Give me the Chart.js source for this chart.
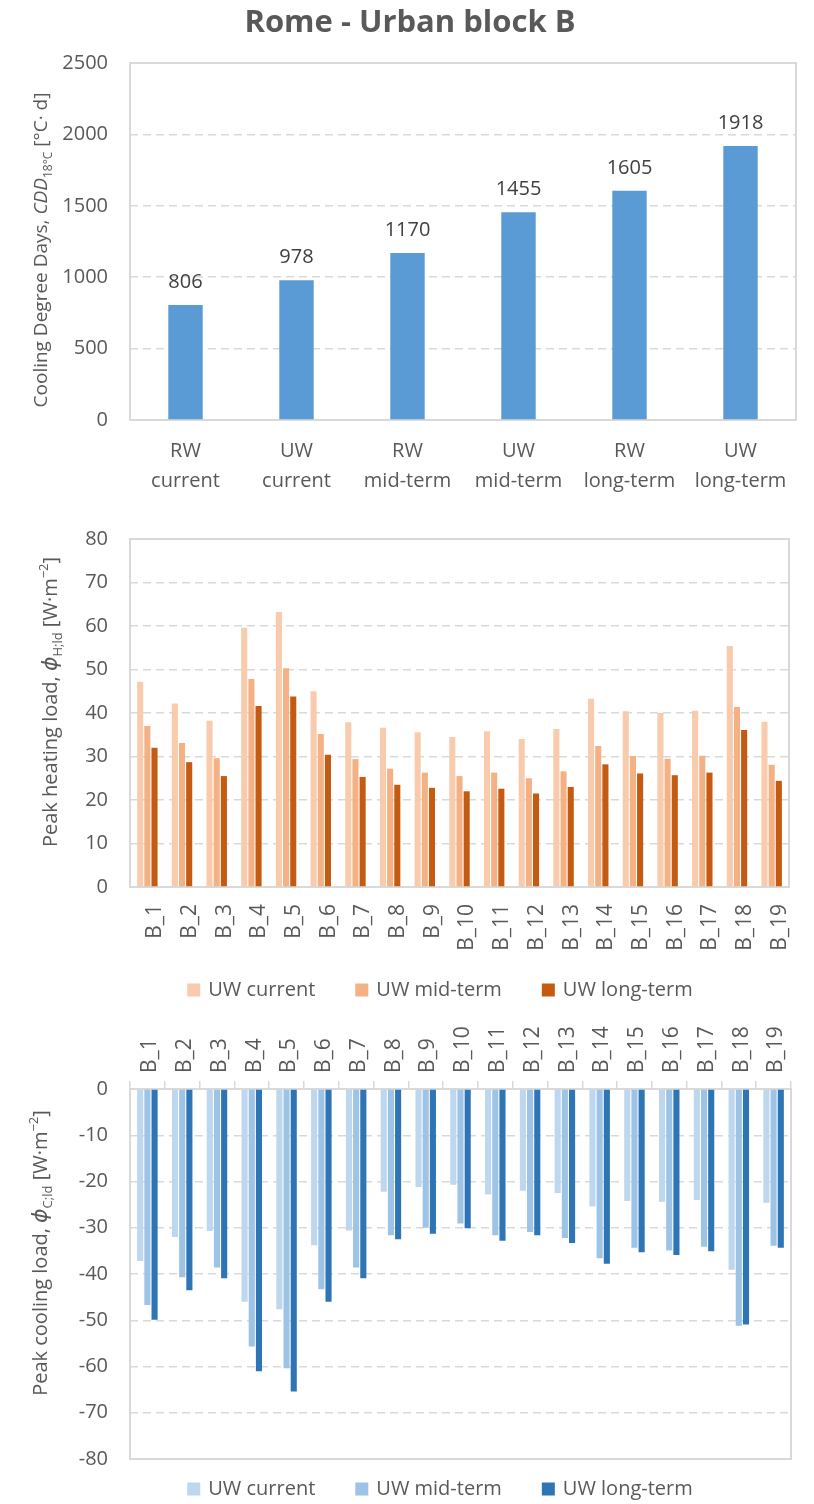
<!DOCTYPE html>
<html><head><meta charset="utf-8">
<script src="https://cdn.jsdelivr.net/npm/chart.js@4.4.0/dist/chart.umd.min.js"></script>
<style>
body{margin:0;background:#fff;width:814px;height:1504px;overflow:hidden;}
.box{position:absolute;left:0;width:814px;}
</style></head><body>
<div class="box" style="top:0;height:505px"><canvas id="c1"></canvas></div>
<div class="box" style="top:505px;height:505px"><canvas id="c2"></canvas></div>
<div class="box" style="top:1010px;height:494px"><canvas id="c3"></canvas></div>
<script>
// ---------- DATA ----------
const chartTitle = 'Rome - Urban block B';
const cddCategories = [['RW','current'],['UW','current'],['RW','mid-term'],['UW','mid-term'],['RW','long-term'],['UW','long-term']];
const cddValues = [806, 978, 1170, 1455, 1605, 1918];
const blocks = ['B_1','B_2','B_3','B_4','B_5','B_6','B_7','B_8','B_9','B_10','B_11','B_12','B_13','B_14','B_15','B_16','B_17','B_18','B_19'];
const seriesLabels = ['UW current','UW mid-term','UW long-term'];
const heatCurrent = [47.2, 42.2, 38.2, 59.6, 63.2, 45.0, 37.9, 36.6, 35.6, 34.5, 35.8, 34.0, 36.3, 43.3, 40.4, 40.0, 40.5, 55.4, 38.0];
const heatMid     = [37.0, 33.1, 29.6, 47.8, 50.3, 35.2, 29.4, 27.2, 26.3, 25.5, 26.3, 25.0, 26.6, 32.4, 30.1, 29.5, 30.2, 41.4, 28.1];
const heatLong    = [32.0, 28.7, 25.5, 41.6, 43.8, 30.4, 25.3, 23.5, 22.8, 22.0, 22.6, 21.5, 23.0, 28.2, 26.1, 25.7, 26.3, 36.1, 24.4];
const coolCurrent = [-37.2, -32.0, -30.7, -46.0, -47.6, -33.8, -30.6, -22.2, -21.2, -20.7, -22.8, -22.0, -22.5, -25.4, -24.2, -24.4, -24.0, -39.1, -24.6];
const coolMid     = [-46.7, -40.7, -38.6, -55.7, -60.4, -43.3, -38.6, -31.6, -30.0, -29.1, -31.6, -30.9, -32.2, -36.6, -34.3, -34.9, -34.1, -51.2, -33.9];
const coolLong    = [-49.9, -43.5, -40.9, -61.0, -65.4, -46.0, -40.9, -32.5, -31.3, -30.1, -32.8, -31.6, -33.3, -37.8, -35.3, -35.9, -35.1, -50.9, -34.3];
const cddAxis = {min: 0, max: 2500, step: 500};
const heatAxis = {min: 0, max: 80, step: 10};
const coolAxis = {min: -80, max: 0, step: 10};

// ---------- STYLE ----------
const FONT = "'Open Sans', 'DejaVu Sans', sans-serif";
const TXT = '#595959';
const GRID = '#D9D9D9';
Chart.defaults.font.family = FONT;
Chart.defaults.color = TXT;
const heatColors = ['#F8CBAD', '#F4B183', '#C55A11'];
const coolColors = ['#BDD7EE', '#9DC3E6', '#2E75B6'];
const plainTick = v => String(v);

const framePlugin = {
  id: 'frame',
  beforeDatasetsDraw(chart) {
    const {ctx, chartArea: a} = chart;
    ctx.save();
    ctx.strokeStyle = GRID; ctx.lineWidth = 2;
    ctx.strokeRect(a.left, a.top, a.right - a.left, a.bottom - a.top);
    ctx.restore();
  }
};

function richTitle(segments, x, yc) {
  return {
    id: 'richTitle',
    afterDraw(chart) {
      const ctx = chart.ctx;
      ctx.save();
      ctx.translate(x, yc);
      ctx.rotate(-Math.PI / 2);
      ctx.fillStyle = TXT;
      ctx.textBaseline = 'alphabetic';
      let total = 0;
      segments.forEach(s => { ctx.font = s.f + ' ' + FONT; total += ctx.measureText(s.t).width; });
      let u = -total / 2;
      segments.forEach(s => {
        ctx.font = s.f + ' ' + FONT;
        ctx.fillText(s.t, u, 7 + (s.dy || 0));
        u += ctx.measureText(s.t).width;
      });
      ctx.restore();
    }
  };
}

function customLegend(cx, y, colors) {
  return {
    id: 'customLegend',
    afterDraw(chart) {
      const ctx = chart.ctx;
      ctx.save();
      ctx.font = '20px ' + FONT;
      ctx.textBaseline = 'middle';
      const box = 13, gap = 8, itemGap = 40;
      const labels = chart.data.datasets.map(d => d.label);
      const widths = labels.map(l => box + gap + ctx.measureText(l).width);
      const total = widths.reduce((a, b) => a + b, 0) + itemGap * (labels.length - 1);
      let xx = cx - total / 2;
      labels.forEach((l, i) => {
        ctx.fillStyle = chart.data.datasets[i].backgroundColor;
        ctx.fillRect(xx, y - box / 2, box, box);
        ctx.fillStyle = TXT;
        ctx.fillText(l, xx + box + gap, y);
        xx += widths[i] + itemGap;
      });
      ctx.restore();
    }
  };
}

// ---------- CHART 1 ----------
const titlePlugin = {
  id: 'topTitle',
  afterDraw(chart) {
    const ctx = chart.ctx;
    ctx.save();
    ctx.font = 'bold 31px ' + FONT;
    ctx.fillStyle = TXT;
    ctx.textAlign = 'center';
    ctx.textBaseline = 'middle';
    ctx.fillText(chartTitle, 410, 23);
    ctx.restore();
  }
};
const valueLabels = {
  id: 'valueLabels',
  afterDatasetsDraw(chart) {
    const ctx = chart.ctx;
    const meta = chart.getDatasetMeta(0);
    ctx.save();
    ctx.font = '20px ' + FONT;
    ctx.fillStyle = '#404040';
    ctx.textAlign = 'center';
    ctx.textBaseline = 'bottom';
    meta.data.forEach((bar, i) => {
      ctx.fillText(String(chart.data.datasets[0].data[i]), bar.x, bar.y - 13);
    });
    ctx.restore();
  }
};

new Chart(document.getElementById('c1'), {
  type: 'bar',
  data: {
    labels: cddCategories,
    datasets: [{label: 'CDD', data: cddValues, backgroundColor: '#5B9BD5', categoryPercentage: 0.31, barPercentage: 1}]
  },
  options: {
    responsive: true, maintainAspectRatio: false, animation: false,
    layout: {padding: {top: 63, right: 18, left: 0, bottom: 0}},
    plugins: {legend: {display: false}, tooltip: {enabled: false}},
    scales: {
      x: {
        grid: {display: false}, border: {display: false},
        ticks: {color: TXT, font: {size: 20, lineHeight: 1.5}, padding: 8, maxRotation: 0, autoSkip: false},
        afterFit(s) { s.height = 85; }
      },
      y: {
        min: cddAxis.min, max: cddAxis.max,
        ticks: {stepSize: cddAxis.step, color: TXT, font: {size: 20}, padding: 22, callback: plainTick},
        grid: {color: GRID, lineWidth: 1.5, drawTicks: false},
        border: {display: false, dash: [8, 5]},
        afterFit(s) { s.width = 130; }
      }
    }
  },
  plugins: [framePlugin, titlePlugin, valueLabels,
    richTitle([{t: 'Cooling Degree Days, ', f: '19px'}, {t: 'CDD', f: 'italic 19px'}, {t: '18°C', f: '12px', dy: 5}, {t: ' [°C· d]', f: '19px'}], 40, 250)]
});

// ---------- CHART 2 ----------
function groupDatasets(values, colors) {
  return values.map((v, i) => ({
    label: seriesLabels[i], data: v, backgroundColor: colors[i],
    categoryPercentage: 0.62, barPercentage: 0.85
  }));
}

new Chart(document.getElementById('c2'), {
  type: 'bar',
  data: {labels: blocks, datasets: groupDatasets([heatCurrent, heatMid, heatLong], heatColors)},
  options: {
    responsive: true, maintainAspectRatio: false, animation: false,
    layout: {padding: {top: 19, right: 25, left: 0, bottom: 0}},
    plugins: {legend: {display: false}, tooltip: {enabled: false}},
    scales: {
      x: {
        grid: {display: false}, border: {display: false},
        ticks: {color: TXT, font: {size: 21}, padding: 9, minRotation: 90, maxRotation: 90, autoSkip: false, labelOffset: 8},
        afterFit(s) { s.height = 123; }
      },
      y: {
        min: heatAxis.min, max: heatAxis.max,
        ticks: {stepSize: heatAxis.step, color: TXT, font: {size: 20}, padding: 22, callback: plainTick},
        grid: {color: GRID, lineWidth: 1.5, drawTicks: false},
        border: {display: false, dash: [8, 5]},
        afterFit(s) { s.width = 130; }
      }
    }
  },
  plugins: [framePlugin, customLegend(440, 485, heatColors),
    richTitle([{t: 'Peak heating load, ', f: '20px'}, {t: 'ϕ', f: 'italic 22px'}, {t: 'H;ld', f: '13px', dy: 5}, {t: ' [W·m', f: '20px'}, {t: '−2', f: '13px', dy: -9}, {t: ']', f: '20px'}], 50, 197)]
});

// ---------- CHART 3 ----------
new Chart(document.getElementById('c3'), {
  type: 'bar',
  data: {labels: blocks, datasets: groupDatasets([coolCurrent, coolMid, coolLong], coolColors)},
  options: {
    responsive: true, maintainAspectRatio: false, animation: false,
    layout: {padding: {top: 0, right: 23, left: 0, bottom: 45}},
    plugins: {legend: {display: false}, tooltip: {enabled: false}},
    scales: {
      x: {
        position: 'top',
        grid: {display: true, drawOnChartArea: false, drawTicks: true, tickLength: 8, color: GRID, lineWidth: 1.5},
        border: {display: false},
        ticks: {color: TXT, font: {size: 21}, padding: 8, minRotation: 90, maxRotation: 90, autoSkip: false, labelOffset: 28},
        afterFit(s) { s.height = 79; }
      },
      y: {
        min: coolAxis.min, max: coolAxis.max,
        ticks: {stepSize: coolAxis.step, color: TXT, font: {size: 20}, padding: 22, callback: plainTick},
        grid: {color: GRID, lineWidth: 1.5, drawTicks: false},
        border: {display: false, dash: [8, 5]},
        afterFit(s) { s.width = 130; }
      }
    }
  },
  plugins: [framePlugin, customLegend(440, 479, coolColors),
    richTitle([{t: 'Peak cooling load, ', f: '20px'}, {t: 'ϕ', f: 'italic 22px'}, {t: 'C;ld', f: '13px', dy: 5}, {t: ' [W·m', f: '20px'}, {t: '−2', f: '13px', dy: -9}, {t: ']', f: '20px'}], 40, 243)]
});
</script>
</body></html>
